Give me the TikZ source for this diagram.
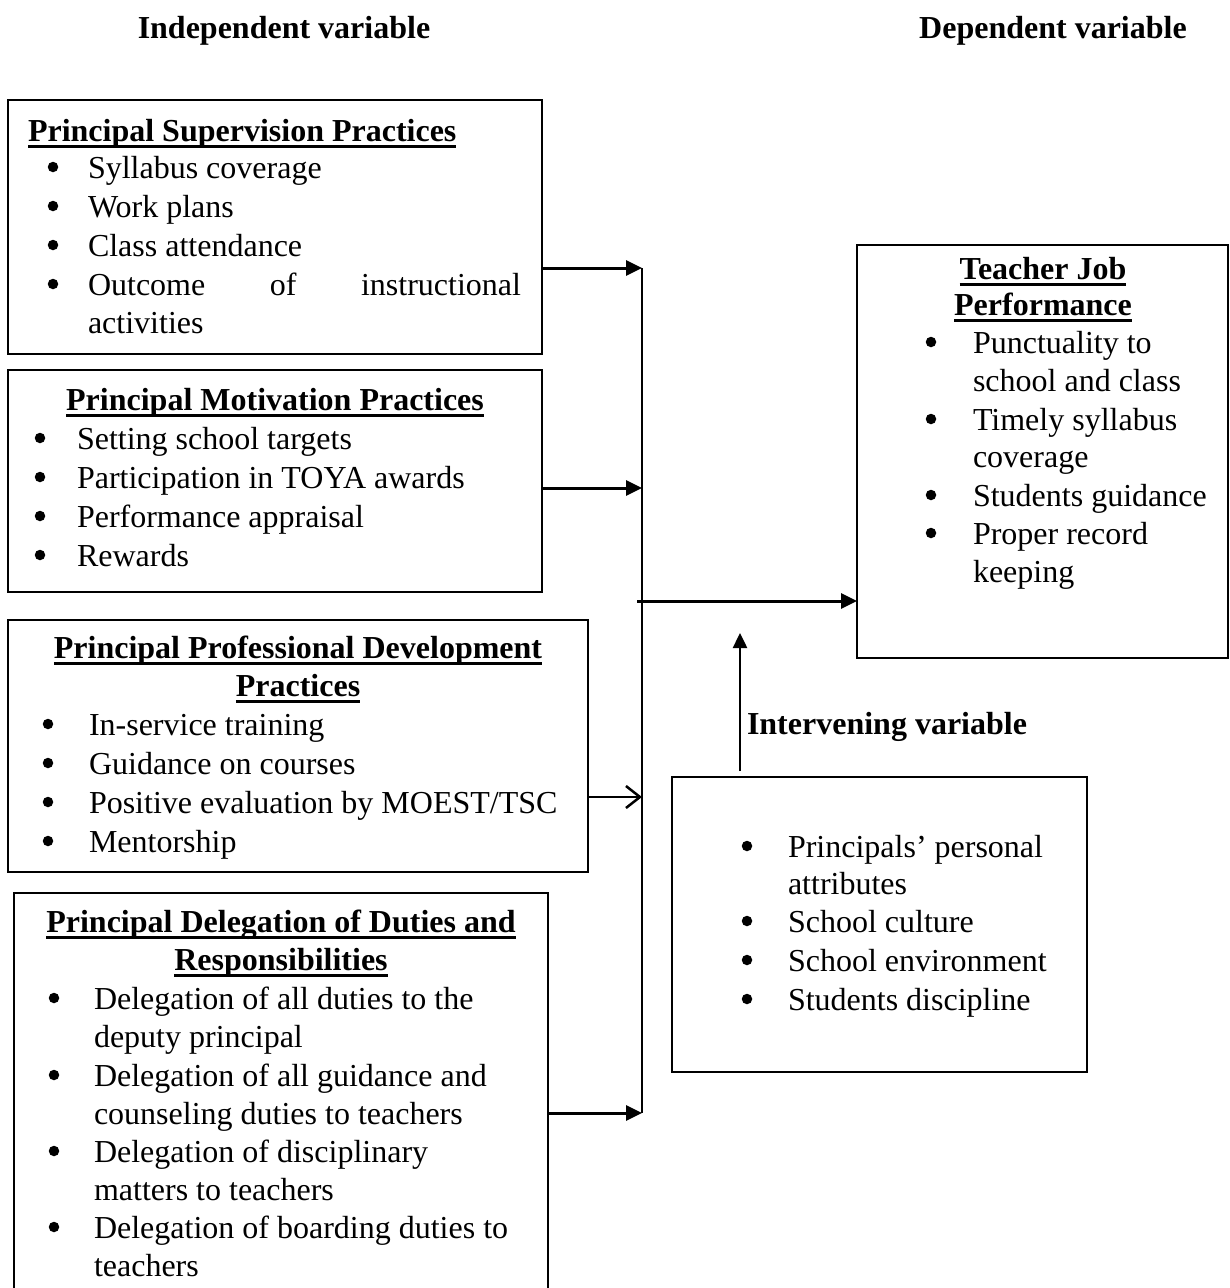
\documentclass[tikz,border=0pt]{standalone}
\usepackage{fontspec}
\setmainfont{Liberation Serif}
\usetikzlibrary{arrows.meta}
\newcommand\ulx[1]{\setbox0\hbox{#1}\rlap{\vrule width\wd0 height -4pt depth 7pt}\box0}
\newcommand\itm[3]{\node[dot] (#1d) at (\bulx,#2-11) {};\node[txt] (#1) at (\txtx,#2) {#3};}
\newcommand\cnt[3]{\node[txt] (#1) at (\txtx,#2) {#3};}
\begin{document}
\begin{tikzpicture}[x=1pt,y=-1pt,
  box/.style={draw, line width=2pt, inner sep=0, outer sep=0, anchor=north west},
  txt/.style={anchor=base west, inner sep=0, outer sep=0, font=\fontsize{32}{38}\selectfont},
  ttl/.style={anchor=base, inner sep=0, outer sep=0, font=\fontsize{32}{38}\selectfont\bfseries},
  ttlw/.style={anchor=base west, inner sep=0, outer sep=0, font=\fontsize{32}{38}\selectfont\bfseries},
  dot/.style={circle, fill, inner sep=0, minimum size=10.5pt},
  arr/.style={line width=3pt, -{Triangle[length=16pt,width=15pt]}},
  arrup/.style={line width=2.5pt, -{Triangle[length=15pt,width=14pt]}},
  opn/.style={line width=2.5pt, -{Straight Barb[length=14pt,width=22pt]}}]
\useasboundingbox (0,0) rectangle (1230,1288);

% headers
\node[ttl] (indep) at (284,38) {Independent variable};
\node[ttl] (dep) at (1053,38) {Dependent variable};

% box 1
\node[box, minimum width=534pt, minimum height=254pt] (b1) at (8,100) {};
\node[ttlw] (t1) at (28,141) {\ulx{Principal Supervision Practices}};
\def\bulx{53}\def\txtx{88}
\itm{a1}{178}{Syllabus coverage}
\itm{a2}{217}{Work plans}
\itm{a3}{256}{Class attendance}
\itm{a4}{295}{\hbox to 433pt{Outcome\hfill of\hfill instructional}}
\cnt{a5}{333}{activities}

% box 2
\node[box, minimum width=534pt, minimum height=222pt] (b2) at (8,370) {};
\node[ttl] (t2) at (275,410) {\ulx{Principal Motivation Practices}};
\def\bulx{40}\def\txtx{77}
\itm{c1}{449}{Setting school targets}
\itm{c2}{488}{Participation in TOYA awards}
\itm{c3}{527}{Performance appraisal}
\itm{c4}{566}{Rewards}

% box 3
\node[box, minimum width=580pt, minimum height=252pt] (b3) at (8,620) {};
\node[ttl] (t3a) at (298,658) {\ulx{Principal Professional Development}};
\node[ttl] (t3b) at (298,696) {\ulx{Practices}};
\def\bulx{48}\def\txtx{89}
\itm{e1}{735}{In-service training}
\itm{e2}{774}{Guidance on courses}
\itm{e3}{813}{Positive evaluation by MOEST/TSC}
\itm{e4}{852}{Mentorship}

% box 4 (bottom edge outside the picture)
\node[anchor=north west, inner sep=0, outer sep=0, minimum width=534pt, minimum height=420pt] (b4) at (14,893) {};
\draw[line width=2pt] (b4.south west) -- (b4.north west) -- (b4.north east) -- (b4.south east);
\node[ttl] (t4a) at (281,932) {\ulx{Principal Delegation of Duties and}};
\node[ttl] (t4b) at (281,970) {\ulx{Responsibilities}};
\def\bulx{54}\def\txtx{94}
\itm{g1}{1009}{Delegation of all duties to the}
\cnt{g2}{1047}{deputy principal}
\itm{g3}{1086}{Delegation of all guidance and}
\cnt{g4}{1124}{counseling duties to teachers}
\itm{g5}{1162}{Delegation of disciplinary}
\cnt{g6}{1200}{matters to teachers}
\itm{g7}{1238}{Delegation of boarding duties to}
\cnt{g8}{1276}{teachers}

% teacher job performance
\node[box, minimum width=371pt, minimum height=413pt] (tjp) at (857,245) {};
\node[ttl] (t5a) at (1043,279) {\ulx{Teacher Job}};
\node[ttl] (t5b) at (1043,315) {\ulx{Performance}};
\def\bulx{931}\def\txtx{973}
\itm{p1}{353}{Punctuality to}
\cnt{p2}{391}{school and class}
\itm{p3}{430}{Timely syllabus}
\cnt{p4}{467}{coverage}
\itm{p5}{506}{Students guidance}
\itm{p6}{544}{Proper record}
\cnt{p7}{582}{keeping}

% intervening
\node[ttlw] (ivl) at (747,734) {Intervening variable};
\node[box, minimum width=415pt, minimum height=295pt] (ib) at (672,777) {};
\def\bulx{747}\def\txtx{788}
\itm{q1}{857}{Principals’ personal}
\cnt{q2}{894}{attributes}
\itm{q3}{932}{School culture}
\itm{q4}{971}{School environment}
\itm{q5}{1010}{Students discipline}

% connectors
\coordinate (v1) at (642,268);
\coordinate (v2) at (642,488);
\coordinate (v3) at (642,797);
\coordinate (v4) at (642,1113);
\draw[line width=2pt] (v1) -- (v4);
\draw[arr] (b1.east |- v1) -- (v1);
\draw[arr] (b2.east |- v2) -- (v2);
\draw[opn] (b3.east |- v3) -- (v3);
\draw[arr] (b4.east |- v4) -- (v4);
\coordinate (m0) at (637,601);
\draw[arr] (m0) -- (tjp.west |- m0);
\coordinate (u0) at (740,771);
\coordinate (u1) at (740,633);
\draw[arrup] (u0) -- (u1);
\end{tikzpicture}
\end{document}
